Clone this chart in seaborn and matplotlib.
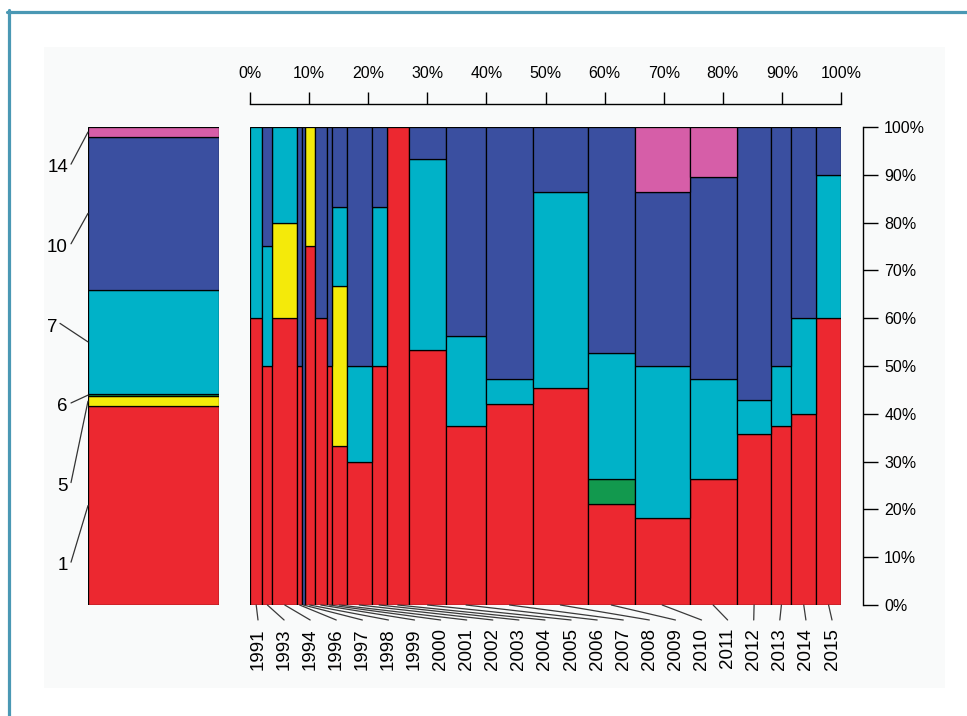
import numpy as np
import matplotlib
matplotlib.use("Agg")
import matplotlib.pyplot as plt
import seaborn as sns
from matplotlib.patches import Rectangle
from matplotlib.lines import Line2D

# ---------------- data ----------------
years = ['1991', '1993', '1994', '1996', '1997', '1998', '1999', '2000', '2001',
         '2002', '2003', '2004', '2005', '2006', '2007', '2008', '2009', '2010',
         '2011', '2012', '2013', '2014', '2015']
cat_codes = ['1', '5', '6', '7', '10', '14']
red    = [3, 2, 6, 1, 0, 3, 3, 1, 2, 3, 3, 9, 8, 6, 8, 10, 4, 4, 5, 5, 3, 4, 6]
yellow = [0, 0, 2, 0, 0, 1, 0, 0, 2, 0, 0, 0, 0, 0, 0, 0, 0, 0, 0, 0, 0, 0, 0]
green  = [0, 0, 0, 0, 0, 0, 0, 0, 0, 0, 0, 0, 0, 0, 0, 0, 1, 0, 0, 0, 0, 0, 0]
cyan   = [2, 1, 2, 0, 0, 0, 0, 0, 1, 2, 2, 0, 6, 3, 1, 9, 5, 7, 4, 1, 1, 2, 3]
blue   = [0, 1, 0, 1, 1, 0, 2, 1, 1, 5, 1, 0, 1, 7, 10, 3, 9, 8, 8, 8, 4, 4, 1]
pink   = [0, 0, 0, 0, 0, 0, 0, 0, 0, 0, 0, 0, 0, 0, 0, 0, 0, 3, 2, 0, 0, 0, 0]
pct_ticks = [0, 10, 20, 30, 40, 50, 60, 70, 80, 90, 100]

colors = ['#ec2830', '#f4ea0a', '#12994e', '#00b2c8', '#3a4fa0', '#d65ea8']

# ---------------- style ----------------
sns.set_theme(style='white')
plt.rcParams['font.family'] = ['Liberation Sans', 'DejaVu Sans']

W, H = 967, 716
fig = plt.figure(figsize=(W / 100, H / 100), dpi=100)
fig.patch.set_facecolor('white')

# background panel and frame border
fig.patches.append(Rectangle((44 / W, 1 - 688 / H), (945 - 44) / W, (688 - 47) / H,
                             transform=fig.transFigure, facecolor='#f9fafa',
                             edgecolor='none', zorder=-10))
fig.lines.append(Line2D([8.5 / W, 8.5 / W], [0, 1 - 10 / H], transform=fig.transFigure,
                        color='#4a98b4', lw=2.3))
fig.lines.append(Line2D([7 / W, 1], [1 - 11.5 / H, 1 - 11.5 / H], transform=fig.transFigure,
                        color='#4a98b4', lw=2.3))

series = np.array([red, yellow, green, cyan, blue, pink], dtype=float)
counts = series.sum(axis=0)
total = counts.sum()
widths = counts / total
lefts = np.concatenate([[0], np.cumsum(widths)[:-1]])
centers = lefts + widths / 2
props = series / counts

y0, y1 = 127, 605
ax = fig.add_axes([250 / W, 1 - y1 / H, 591 / W, (y1 - y0) / H])
axl = fig.add_axes([88 / W, 1 - y1 / H, 131 / W, (y1 - y0) / H])

# ---------------- main spine plot ----------------
bottoms = np.zeros(len(years))
for k in range(len(cat_codes)):
    h = props[k]
    m = h > 0
    ax.bar(lefts[m], h[m], width=widths[m], bottom=bottoms[m], align='edge',
           color=colors[k], edgecolor='black', linewidth=0.9)
    bottoms += h
ax.set_xlim(0, 1)
ax.set_ylim(0, 1)
ax.set_facecolor('none')
for s in ['left', 'bottom']:
    ax.spines[s].set_visible(False)
ax.spines['top'].set_position(('outward', 16.5))
ax.spines['top'].set_bounds(0, 1)
ax.spines['right'].set_position(('outward', 15.8))
ax.spines['right'].set_bounds(0, 1)
for s in ['top', 'right']:
    ax.spines[s].set_color('black')
    ax.spines[s].set_linewidth(1.0)
ticks = [t / 100 for t in pct_ticks]
tlabels = [f'{t}%' for t in pct_ticks]
ax.set_xticks(ticks)
ax.set_xticklabels(tlabels)
ax.set_yticks(ticks)
ax.set_yticklabels(tlabels)
ax.tick_params(axis='x', bottom=False, top=True, labelbottom=False, labeltop=True,
               direction='out', length=8.6, width=1, pad=8, labelsize=11.5, colors='black')
ax.tick_params(axis='y', left=False, right=True, labelleft=False, labelright=True,
               direction='out', length=10.8, width=1, pad=4.5, labelsize=11.5, colors='black')
ax.grid(False)

# year labels with leader lines
lab_x = np.linspace((258 - 250) / 591, (832 - 250) / 591, len(years))
lab_top = -(628 - 605) / 478
line_end = -(620 - 605) / 478
for i, yr in enumerate(years):
    ax.add_line(Line2D([centers[i], lab_x[i]], [0, line_end], color='#3a3a3a',
                       lw=0.9, clip_on=False))
    ax.text(lab_x[i], lab_top, yr, rotation=90, ha='center', va='top',
            fontsize=13.5, color='black', clip_on=False)

# ---------------- left marginal bar ----------------
marg = series.sum(axis=1) / total
b = 0.0
mids = []
for k in range(len(cat_codes)):
    axl.bar(0, marg[k], width=1, bottom=b, align='edge', color=colors[k],
            edgecolor='black', linewidth=0.9)
    mids.append(b + marg[k] / 2)
    b += marg[k]
axl.set_xlim(0, 1)
axl.set_ylim(0, 1)
axl.axis('off')

lab_y = np.linspace((605 - 566) / 478, (605 - 168) / 478, len(cat_codes))
lab_xpx = [68, 68, 68, 57, 68, 68]
for k, code in enumerate(cat_codes):
    xr = (lab_xpx[k] - 88) / 131
    axl.text(xr, lab_y[k], code, ha='right', va='center', fontsize=13.5,
             color='black', clip_on=False)
    axl.add_line(Line2D([xr + 3 / 131, 0], [lab_y[k] + 0.008, mids[k]],
                        color='#333333', lw=0.9, clip_on=False))

fig.savefig('out.png', dpi=100)
